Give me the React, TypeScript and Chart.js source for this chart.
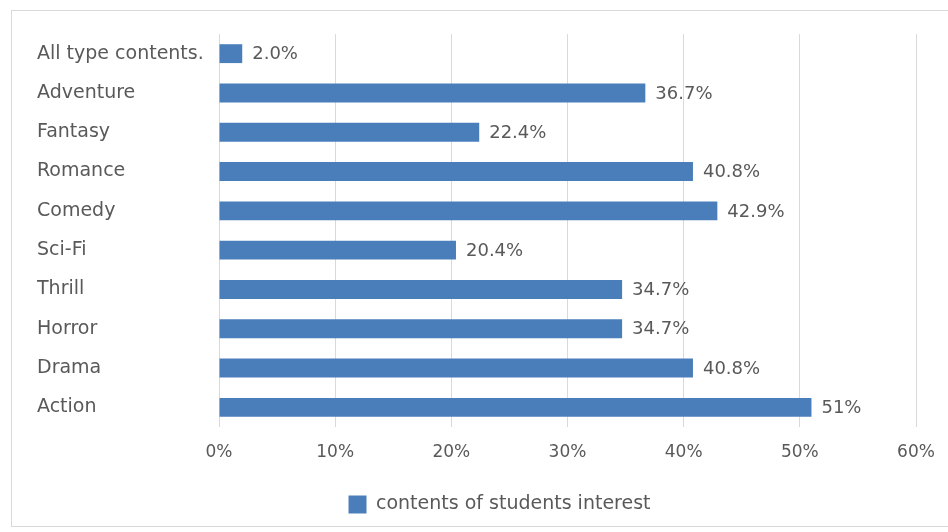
import React, { useEffect, useRef } from "react";
import { Chart, registerables } from "chart.js";

Chart.register(...registerables);

const categories = [
  "All type contents.",
  "Adventure",
  "Fantasy",
  "Romance",
  "Comedy",
  "Sci-Fi",
  "Thrill",
  "Horror",
  "Drama",
  "Action",
];
const values = [2.0, 36.7, 22.4, 40.8, 42.9, 20.4, 34.7, 34.7, 40.8, 51];
const valueLabels = ["2.0%", "36.7%", "22.4%", "40.8%", "42.9%", "20.4%", "34.7%", "34.7%", "40.8%", "51%"];
const seriesName = "contents of students interest";
const xTicks = [0, 10, 20, 30, 40, 50, 60];

const FONT = "'DejaVu Sans', sans-serif";
const TEXT = "#595959";
const BAR = "#4a7ebb";
const W = 948;
const H = 532;
const LEGEND_SHIFT = 23;

const dataLabelPlugin = {
  id: "dataLabels",
  afterDatasetsDraw(chart: any) {
    const ctx = chart.ctx;
    const meta = chart.getDatasetMeta(0);
    ctx.save();
    ctx.font = `18px ${FONT}`;
    ctx.fillStyle = TEXT;
    ctx.textAlign = "left";
    ctx.textBaseline = "middle";
    meta.data.forEach((el: any, i: number) => {
      ctx.fillText(valueLabels[i], el.x + 10, el.y + 1);
    });
    ctx.restore();
  },
};

const legendShiftPlugin = {
  id: "legendShift",
  afterLayout(chart: any) {
    const lg = chart.legend;
    if (lg) {
      lg.left += LEGEND_SHIFT;
      lg.right += LEGEND_SHIFT;
    }
  },
};

export default function App() {
  const ref = useRef<HTMLCanvasElement | null>(null);
  useEffect(() => {
    if (!ref.current) return;
    const chart = new Chart(ref.current, {
      type: "bar",
      data: {
        labels: categories,
        datasets: [
          {
            label: seriesName,
            data: values,
            backgroundColor: BAR,
            borderWidth: 0,
            barPercentage: 0.48,
            categoryPercentage: 1,
          },
        ],
      },
      options: {
        indexAxis: "y",
        responsive: false,
        animation: false,
        layout: { padding: { left: 37, right: 32, top: 34, bottom: 8 } },
        scales: {
          x: {
            min: 0,
            max: 60,
            afterBuildTicks: (s: any) => {
              s.ticks = xTicks.map((v) => ({ value: v }));
            },
            afterFit: (s: any) => {
              s.height = 58;
              s.paddingRight = 0;
              s.paddingLeft = 0;
            },
            grid: { color: "#d9d9d9", drawTicks: false, lineWidth: 1 },
            border: { display: false },
            ticks: {
              padding: 15,
              color: TEXT,
              font: { family: FONT, size: 17 },
              callback: (v: any) => v + "%",
            },
          },
          y: {
            afterFit: (s: any) => {
              s.width = 219 - 37;
            },
            grid: { display: false },
            border: { display: false },
            ticks: {
              crossAlign: "far",
              color: TEXT,
              font: { family: FONT, size: 19 },
            },
          },
        },
        plugins: {
          legend: {
            position: "bottom",
            labels: {
              boxWidth: 18,
              boxHeight: 18,
              padding: 10,
              color: TEXT,
              font: { family: FONT, size: 19 },
            },
          },
          tooltip: { enabled: false },
        },
      },
      plugins: [dataLabelPlugin, legendShiftPlugin],
    });
    return () => chart.destroy();
  }, []);

  return (
    <div
      style={{
        position: "absolute",
        left: 0,
        top: 0,
        width: 948,
        height: 532,
        background: "#fff",
        overflow: "hidden",
      }}
    >
      <div
        style={{
          position: "absolute",
          left: 11,
          top: 10,
          width: 1020,
          height: 517,
          border: "1px solid #d9d9d9",
          boxSizing: "border-box",
        }}
      />
      <canvas ref={ref} width={W} height={H} style={{ position: "absolute", left: 0, top: 0 }} />
    </div>
  );
}
